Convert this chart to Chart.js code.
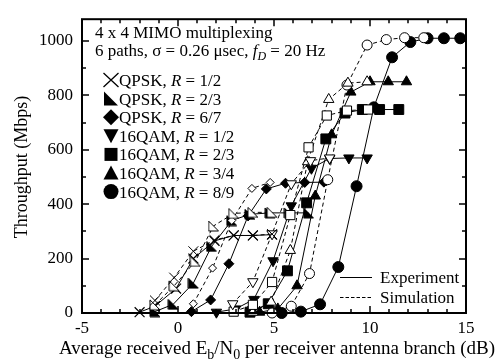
<!DOCTYPE html>
<html>
<head>
<meta charset="UTF-8">
<title>4x4 MIMO throughput</title>
<style>
  html, body { margin: 0; padding: 0; background: #fff; }
  #chart { display: block; }
</style>
</head>
<body>
<canvas id="chart" width="500" height="360"></canvas>
<script src="https://cdn.jsdelivr.net/npm/chart.js"></script>
<script>
// tick labels
const xTicks = [-5, 0, 5, 10, 15];
const yTicks = [0, 200, 400, 600, 800, 1000];

// QPSK, R = 1/2
const qpsk12ExpX = [-2, -1.2, -0.1, 0.8, 1.9, 2.9, 3.9, 4.9];
const qpsk12ExpY = [3, 25, 90, 200, 265, 285, 285, 288];
const qpsk12SimX = [-1.2, -0.2, 0.8, 1.9, 2.9, 3.9, 4.9];
const qpsk12SimY = [46, 130, 227, 268, 285, 285, 290];
// QPSK, R = 2/3
const qpsk23ExpX = [-1.2, -0.25, 0.8, 1.75, 2.8, 3.75, 4.8, 5.8, 6.8];
const qpsk23ExpY = [5, 32, 110, 245, 340, 363, 368, 368, 368];
const qpsk23SimX = [-1.2, -0.2, 0.9, 1.85, 2.9, 3.9, 4.9];
const qpsk23SimY = [30, 100, 190, 320, 366, 370, 370];
// QPSK, R = 6/7
const qpsk67ExpX = [0.7, 1.7, 2.65, 3.65, 4.6, 5.6, 6.6, 7.6];
const qpsk67ExpY = [5, 48, 181, 357, 456, 477, 480, 481];
const qpsk67SimX = [0.8, 1.8, 2.8, 3.85, 4.8];
const qpsk67SimY = [34, 165, 340, 458, 480];
// 16QAM, R = 1/2
const qam12ExpX = [2.0, 3.0, 3.95, 4.95, 5.9, 6.95, 7.9, 8.9, 9.85];
const qam12ExpY = [3, 15, 50, 192, 394, 532, 568, 570, 570];
const qam12SimX = [2.85, 3.9, 4.9, 5.9, 6.9, 7.9];
const qam12SimY = [34, 115, 291, 475, 560, 570];
// 16QAM, R = 2/3
const qam23ExpX = [3.75, 4.7, 5.7, 6.7, 7.7, 8.7, 9.6, 10.5, 11.5];
const qam23ExpY = [3, 34, 155, 405, 640, 735, 748, 748, 748];
const qam23SimX = [2.9, 3.9, 4.9, 5.85, 6.8, 7.75, 8.8, 9.9];
const qam23SimY = [5, 30, 114, 360, 609, 726, 744, 748];
// 16QAM, R = 3/4
const qam34ExpX = [4.25, 5.2, 6.2, 7.15, 8.0, 9.0, 10.0, 10.95, 11.9];
const qam34ExpY = [3, 15, 100, 430, 655, 812, 850, 850, 850];
const qam34SimX = [3.9, 4.85, 5.85, 6.75, 7.85, 8.85, 9.85];
const qam34SimY = [3, 40, 230, 556, 785, 845, 850];
// 16QAM, R = 8/9
const qam89ExpX = [5.4, 6.4, 7.4, 8.35, 9.3, 10.2, 11.15, 12.1, 13.0, 13.85, 14.7];
const qam89ExpY = [0, 5, 32, 169, 466, 756, 940, 996, 1010, 1010, 1010];
const qam89SimX = [4.9, 5.9, 6.85, 7.8, 8.8, 9.85, 10.85, 11.8, 12.8];
const qam89SimY = [0, 25, 145, 490, 838, 985, 1005, 1012, 1012];

const FONT = '"Liberation Serif", "Times New Roman", serif';

// right triangle marker (right angle bottom-left)
function rtri(size, fill) {
  const c = document.createElement('canvas');
  c.width = size + 2; c.height = size + 2;
  const g = c.getContext('2d');
  g.beginPath();
  g.moveTo(1, 1); g.lineTo(1, size + 1); g.lineTo(size + 1, size + 1);
  g.closePath();
  g.fillStyle = fill; g.fill();
  g.strokeStyle = '#000'; g.lineWidth = 1; g.stroke();
  return c;
}

const styles = [
  { name: 'QPSK', rate: '1/2', ps: 'crossRot', r: 7, rot: 0 },
  { name: 'QPSK', rate: '2/3', ps: 'rtri', r: 10, rot: 0 },
  { name: 'QPSK', rate: '6/7', ps: 'rectRot', r: 5, rs: 4, rot: 0 },
  { name: '16QAM', rate: '1/2', ps: 'triangle', r: 6, rot: 180 },
  { name: '16QAM', rate: '2/3', ps: 'rect', r: 7, rs: 6.5, rot: 0 },
  { name: '16QAM', rate: '3/4', ps: 'triangle', r: 6, rot: 0 },
  { name: '16QAM', rate: '8/9', ps: 'circle', r: 5.5, rs: 5, rot: 0 }
];
const expData = [
  [qpsk12ExpX, qpsk12ExpY], [qpsk23ExpX, qpsk23ExpY], [qpsk67ExpX, qpsk67ExpY],
  [qam12ExpX, qam12ExpY], [qam23ExpX, qam23ExpY], [qam34ExpX, qam34ExpY], [qam89ExpX, qam89ExpY]
];
const simData = [
  [qpsk12SimX, qpsk12SimY], [qpsk23SimX, qpsk23SimY], [qpsk67SimX, qpsk67SimY],
  [qam12SimX, qam12SimY], [qam23SimX, qam23SimY], [qam34SimX, qam34SimY], [qam89SimX, qam89SimY]
];

const pts = (xs, ys) => xs.map((x, i) => ({ x: x, y: ys[i] }));

const datasets = [];
styles.forEach((s, i) => {
  const [sx, sy] = simData[i];
  datasets.push({
    label: s.name + ' ' + s.rate + ' sim',
    data: pts(sx, sy),
    showLine: true, borderColor: '#000', borderWidth: 1, borderDash: [4, 3],
    pointStyle: s.ps === 'rtri' ? rtri(s.r, '#fff') : s.ps,
    pointRadius: s.rs || s.r, pointRotation: s.rot,
    pointBackgroundColor: '#fff', pointBorderColor: '#000', pointBorderWidth: 1,
    clip: false
  });
});
styles.forEach((s, i) => {
  const [ex, ey] = expData[i];
  datasets.push({
    label: s.name + ' ' + s.rate + ' exp',
    data: pts(ex, ey),
    showLine: true, borderColor: '#000', borderWidth: 1,
    pointStyle: s.ps === 'rtri' ? rtri(s.r, '#000') : s.ps,
    pointRadius: s.r, pointRotation: s.rot,
    pointBackgroundColor: '#000', pointBorderColor: '#000', pointBorderWidth: s.ps === 'crossRot' ? 1.2 : 1,
    clip: false
  });
});

// draw a text run with italic / subscript parts
function rich(ctx, parts, x, y, size, align) {
  const fontOf = p => (p.i ? 'italic ' : '') + (p.s ? Math.round(size * 0.72) : size) + 'px ' + FONT;
  let w = 0;
  parts.forEach(p => { ctx.font = fontOf(p); w += ctx.measureText(p.t).width; });
  let cx = align === 'center' ? x - w / 2 : x;
  parts.forEach(p => {
    ctx.font = fontOf(p);
    ctx.fillText(p.t, cx, y + (p.s ? size * 0.25 : 0));
    cx += ctx.measureText(p.t).width;
  });
}

function legendMarker(ctx, s, x, y) {
  ctx.save();
  ctx.fillStyle = '#000'; ctx.strokeStyle = '#000'; ctx.lineWidth = 1.3;
  ctx.beginPath();
  if (s.ps === 'crossRot') {
    ctx.moveTo(x - 7.5, y - 7); ctx.lineTo(x + 7.5, y + 7);
    ctx.moveTo(x + 7.5, y - 7); ctx.lineTo(x - 7.5, y + 7);
    ctx.stroke();
  } else {
    if (s.ps === 'rtri') { ctx.moveTo(x - 7, y - 7); ctx.lineTo(x - 7, y + 7); ctx.lineTo(x + 7, y + 7); }
    else if (s.ps === 'rectRot') { ctx.moveTo(x - 8, y); ctx.lineTo(x, y - 8); ctx.lineTo(x + 8, y); ctx.lineTo(x, y + 8); }
    else if (s.ps === 'rect') { ctx.rect(x - 6.5, y - 6.5, 13, 13); }
    else if (s.ps === 'circle') { ctx.arc(x, y, 7.5, 0, Math.PI * 2); }
    else if (s.rot === 180) { ctx.moveTo(x - 7.5, y - 6.5); ctx.lineTo(x + 7.5, y - 6.5); ctx.lineTo(x, y + 7.5); }
    else { ctx.moveTo(x - 7.5, y + 6.5); ctx.lineTo(x + 7.5, y + 6.5); ctx.lineTo(x, y - 7.5); }
    ctx.closePath();
    ctx.fill();
  }
  ctx.restore();
}

const deco = {
  id: 'deco',
  afterDraw(chart) {
    const { ctx, chartArea: a, scales: { x, y } } = chart;
    ctx.save();
    ctx.strokeStyle = '#000';
    ctx.lineWidth = 2;
    ctx.strokeRect(a.left, a.top, a.right - a.left, a.bottom - a.top);
    // inward ticks on all sides
    ctx.lineWidth = 1.5;
    ctx.beginPath();
    for (let v = -5; v <= 15; v++) {
      const px = Math.round(x.getPixelForValue(v));
      const len = v % 5 === 0 ? 7 : 4;
      ctx.moveTo(px, a.bottom); ctx.lineTo(px, a.bottom - len);
      ctx.moveTo(px, a.top); ctx.lineTo(px, a.top + len);
    }
    for (let v = 0; v <= 1000; v += 100) {
      const py = Math.round(y.getPixelForValue(v));
      const len = v % 200 === 0 ? 7 : 4;
      ctx.moveTo(a.left, py); ctx.lineTo(a.left + len, py);
      ctx.moveTo(a.right, py); ctx.lineTo(a.right - len, py);
    }
    ctx.stroke();

    ctx.fillStyle = '#000';
    ctx.textAlign = 'left';
    ctx.textBaseline = 'alphabetic';
    rich(ctx, [{ t: '4 x 4 MIMO multiplexing' }], 95, 38, 17);
    rich(ctx, [{ t: '6 paths, \u03c3 = 0.26 \u03bcsec, ' }, { t: 'f', i: 1 }, { t: 'D', i: 1, s: 1 }, { t: ' = 20 Hz' }], 95, 56, 17);

    styles.forEach((s, i) => {
      const cy = 80 + i * 18.6;
      legendMarker(ctx, s, 111, cy);
      rich(ctx, [{ t: s.name + ', ' }, { t: 'R', i: 1 }, { t: ' = ' + s.rate }], 119, cy + 6, 17);
    });

    // line-type legend
    ctx.lineWidth = 1;
    ctx.beginPath();
    ctx.moveTo(340, 277.5); ctx.lineTo(372, 277.5);
    ctx.stroke();
    ctx.setLineDash([3.5, 2]);
    ctx.beginPath();
    ctx.moveTo(340, 297.5); ctx.lineTo(372, 297.5);
    ctx.stroke();
    ctx.setLineDash([]);
    rich(ctx, [{ t: 'Experiment' }], 380, 283, 17);
    rich(ctx, [{ t: 'Simulation' }], 380, 303, 17);

    // axis titles
    rich(ctx, [{ t: 'Average received E' }, { t: 'b', s: 1 }, { t: '/N' }, { t: '0', s: 1 }, { t: ' per receiver antenna branch (dB)' }], 277, 354, 19, 'center');
    ctx.translate(21, 167);
    ctx.rotate(-Math.PI / 2);
    rich(ctx, [{ t: 'Throughput (Mbps)' }], 0, 6, 18, 'center');
    ctx.restore();
  }
};

new Chart(document.getElementById('chart'), {
  type: 'scatter',
  data: { datasets: datasets },
  options: {
    responsive: false,
    animation: false,
    devicePixelRatio: 1,
    layout: { padding: { left: 0, right: 34, top: 6, bottom: 0 } },
    plugins: { legend: { display: false }, tooltip: { enabled: false } },
    elements: { line: { tension: 0 } },
    scales: {
      x: {
        type: 'linear', min: -5, max: 15,
        afterBuildTicks: sc => { sc.ticks = xTicks.map(v => ({ value: v })); },
        afterFit: sc => { sc.height = 47; },
        grid: { display: false, drawTicks: false },
        border: { display: false },
        ticks: { color: '#000', padding: 5, font: { family: FONT, size: 17 }, maxRotation: 0, callback: v => String(v) }
      },
      y: {
        type: 'linear', min: 0, max: 1080,
        afterBuildTicks: sc => { sc.ticks = yTicks.map(v => ({ value: v })); },
        afterFit: sc => { sc.width = 82; },
        grid: { display: false, drawTicks: false },
        border: { display: false },
        ticks: { color: '#000', padding: 9, font: { family: FONT, size: 17 }, callback: v => String(v) }
      }
    }
  },
  plugins: [deco]
});
</script>
</body>
</html>
